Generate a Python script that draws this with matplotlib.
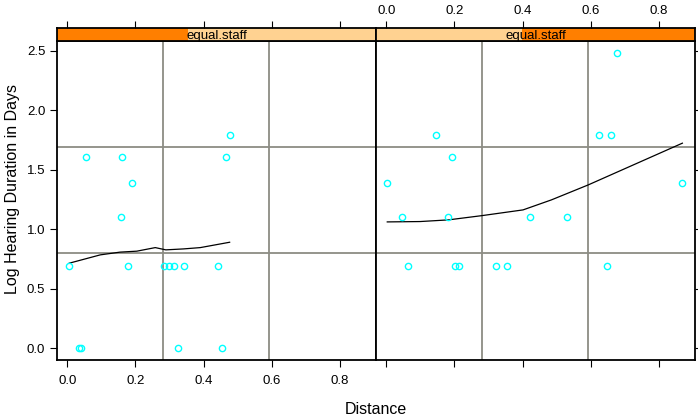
import matplotlib
matplotlib.use("Agg")
import matplotlib.pyplot as plt
from matplotlib.patches import Rectangle

plt.rcParams['font.family'] = ['Liberation Sans', 'DejaVu Sans']

# panel 1 (lower distance shingle)
dist_a = [0.056, 0.161, 0.190, 0.464, 0.476, 0.158, 0.006, 0.179, 0.283, 0.297,
          0.314, 0.343, 0.442, 0.034, 0.040, 0.325, 0.453]
dur_a = [1.609, 1.609, 1.386, 1.609, 1.792, 1.099, 0.693, 0.693, 0.693, 0.693,
         0.693, 0.693, 0.693, 0.0, 0.0, 0.0, 0.0]
fit_xa = [0.006, 0.097, 0.155, 0.204, 0.258, 0.289, 0.341, 0.390, 0.476]
fit_ya = [0.714, 0.784, 0.807, 0.815, 0.845, 0.826, 0.834, 0.845, 0.890]

# panel 2 (higher distance shingle)
dist_b = [0.675, 0.145, 0.625, 0.658, 0.194, 0.003, 0.868, 0.047, 0.182, 0.421,
          0.529, 0.063, 0.202, 0.212, 0.323, 0.355, 0.648]
dur_b = [2.485, 1.792, 1.792, 1.792, 1.609, 1.386, 1.386, 1.099, 1.099, 1.099,
         1.099, 0.693, 0.693, 0.693, 0.693, 0.693, 0.693]
fit_xb = [0.003, 0.099, 0.182, 0.281, 0.401, 0.484, 0.592, 0.868]
fit_yb = [1.061, 1.064, 1.078, 1.114, 1.162, 1.246, 1.372, 1.723]

ref_x = [0.280, 0.592]
ref_y = [0.798, 1.692]
shingle = [(0.0, 0.41), (0.457, 1.0)]
strip_label = "equal.staff"
xticks = [0.0, 0.2, 0.4, 0.6, 0.8]
yticks = [0.0, 0.5, 1.0, 1.5, 2.0, 2.5]

W, H = 698, 418
fig = plt.figure(figsize=(W / 100, H / 100), dpi=100)

panels = [(dist_a, dur_a, fit_xa, fit_ya), (dist_b, dur_b, fit_xb, fit_yb)]
lefts = [57, 376]
pw = 319
top, bottom = 41, 360
strip_h = 13

for i, (xs, ys, fx, fy) in enumerate(panels):
    l = lefts[i]
    ax = fig.add_axes([l / W, (H - bottom) / H, pw / W, (bottom - top) / H])
    st = fig.add_axes([l / W, (H - top) / H, pw / W, strip_h / H])

    for v in ref_x:
        ax.axvline(v, color='#8c8c84', lw=1.3, zorder=1)
    for v in ref_y:
        ax.axhline(v, color='#8c8c84', lw=1.3, zorder=1)
    ax.plot(xs, ys, 'o', ms=4.5, mfc='none', mec='cyan', mew=1.0, zorder=3)
    ax.plot(fx, fy, color='black', lw=0.9, zorder=2)

    ax.set_xlim(-0.03, 0.905)
    ax.set_ylim(-0.1, 2.582)
    ax.set_xticks(xticks)
    ax.set_yticks(yticks)
    for s in ax.spines.values():
        s.set_linewidth(1.3)

    if i == 0:
        ax.tick_params(axis='x', bottom=True, top=False, labelbottom=True,
                       direction='out', length=5, width=0.8, labelsize=9.5, pad=6)
        ax.tick_params(axis='y', left=True, right=False, labelleft=True,
                       direction='out', length=5, width=0.8, labelsize=9.5)
    else:
        ax.tick_params(axis='x', bottom=True, top=False, labelbottom=False,
                       direction='out', length=5, width=0.8)
        ax.tick_params(axis='y', left=False, right=True, labelleft=False,
                       labelright=False, direction='out', length=5, width=0.8)

    # strip with shingle level indicator
    st.set_xlim(ax.get_xlim())
    st.set_ylim(0, 1)
    st.set_facecolor('#ffd291')
    a, b = shingle[i]
    st.add_patch(Rectangle((a, 0), b - a, 1, transform=st.transAxes,
                           color='#ff7f00', lw=0, zorder=1))
    st.text(0.5, 0.14, strip_label, transform=st.transAxes, ha='center',
            va='baseline', fontsize=9.5, zorder=6, clip_on=False)
    st.set_yticks([])
    st.set_xticks(xticks)
    st.tick_params(axis='x', bottom=False, top=True, labelbottom=False,
                   labeltop=(i == 1), direction='out', length=5, width=0.8,
                   labelsize=9.5, pad=3)
    for s in st.spines.values():
        s.set_linewidth(1.3)
        s.set_zorder(4)

fig.text(13 / W, 1 - 189 / H, "Log Hearing Duration in Days", rotation=90,
         ha='center', va='center', fontsize=11.5)
fig.text(376 / W, 1 - 410 / H, "Distance", ha='center', va='center', fontsize=11.5)

fig.savefig("out.png", dpi=100)
